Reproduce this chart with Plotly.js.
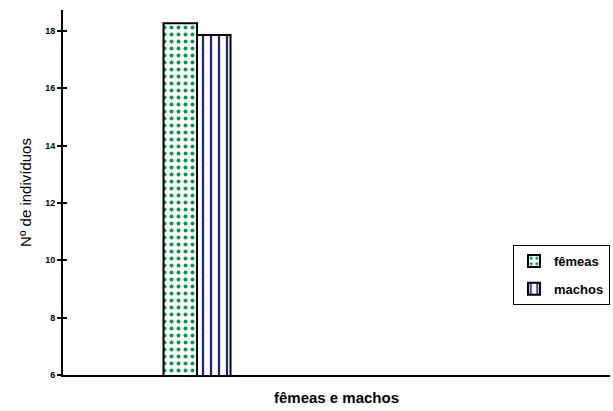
<!DOCTYPE html>
<html><head><meta charset="utf-8">
<script src="https://cdn.plot.ly/plotly-3.0.1.min.js"></script>
<style>html,body{margin:0;padding:0;background:#fff}</style>
</head><body>
<div id="chart" style="width:613px;height:411px"></div>
<script>
const categories = ["fêmeas e machos"];
const femeas = [18.27];
const machos = [17.86];
const seriesNames = ["fêmeas", "machos"];
const yTickVals = [6, 8, 10, 12, 14, 16, 18];
const yTickText = ["6", "8", "10", "12", "14", "16", "18"];

const traces = [
  {type: "bar", name: seriesNames[0], x: [0], y: femeas, base: 0, legendgroup: "a",
   marker: {color: "#ffffff", line: {color: "#000", width: 2},
            pattern: {shape: ".", fgcolor: "#009a4a", fgopacity: 1, bgcolor: "#ffffff", size: 7, solidity: 0.25, fillmode: "replace"}}},
  {type: "bar", name: seriesNames[1], x: [0], y: machos, base: 0, legendgroup: "b",
   marker: {color: "#ffffff", line: {color: "#000", width: 2},
            pattern: {shape: "|", fgcolor: "#1a237e", fgopacity: 1, bgcolor: "#ffffff", size: 8, solidity: 0.28, fillmode: "replace"}}},
  {type: "scatter", x: [0], y: [6], yaxis: "y2", mode: "markers", marker: {opacity: 0}, showlegend: false, hoverinfo: "skip"}
];

const yr = [6, 18.73];
const layout = {
  width: 613, height: 411,
  margin: {l: 63, r: 3, t: 10, b: 36, autoexpand: false},
  paper_bgcolor: "#fff", plot_bgcolor: "#fff",
  font: {family: "Liberation Sans, Arial, sans-serif", color: "#000"},
  barmode: "group", bargap: 0.755, bargroupgap: 0,
  showlegend: true,
  legend: {x: 1.0, y: 0.274, xanchor: "right", yanchor: "middle",
           bordercolor: "#000", borderwidth: 1, bgcolor: "#fff",
           font: {size: 13, family: "Liberation Sans, Arial, sans-serif", weight: "bold"},
           itemwidth: 30, traceorder: "grouped", tracegroupgap: 8},
  xaxis: {range: [-0.49, 1.51], showticklabels: false, ticks: "",
          showline: true, linecolor: "#000", linewidth: 2, showgrid: false, zeroline: false,
          title: {text: "<b>fêmeas e machos</b>", font: {size: 15}, standoff: 16}},
  yaxis: {range: yr, tickvals: yTickVals, ticktext: yTickText, ticks: "outside", ticklen: 4,
          tickwidth: 2, tickcolor: "#000", showline: true, linecolor: "#000", linewidth: 2,
          showgrid: false, zeroline: false, tickfont: {size: 9, weight: "bold"},
          title: {text: "Nº de indivíduos", font: {size: 15}, standoff: 10}},
  yaxis2: {range: yr, overlaying: "y", side: "left", tickvals: yTickVals, showticklabels: false,
           ticks: "inside", ticklen: 4, tickwidth: 2, tickcolor: "#000", showline: false,
           showgrid: false, zeroline: false}
};
Plotly.newPlot("chart", traces, layout, {displayModeBar: false});
</script>
</body></html>
